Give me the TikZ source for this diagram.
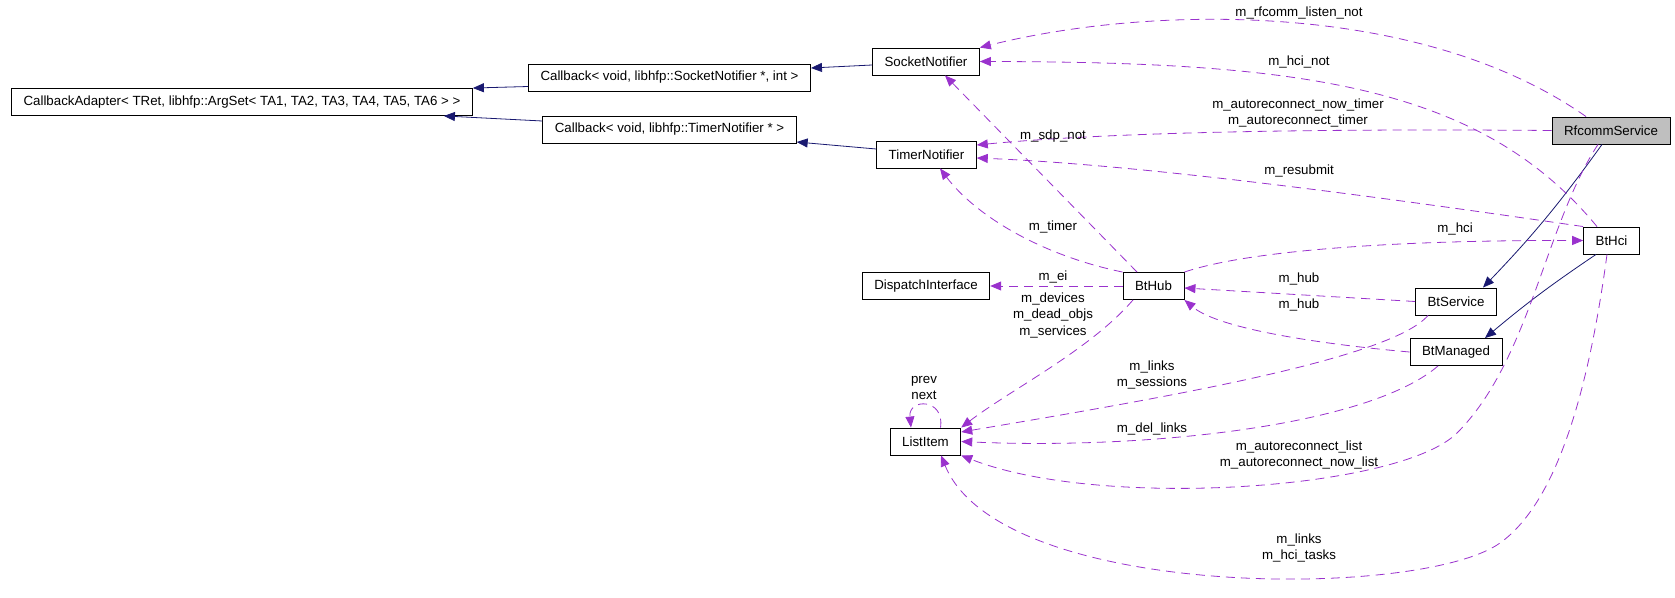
\documentclass[tikz,border=0pt]{standalone}
\usepackage{fontspec}
\setmainfont{Liberation Sans}
\usetikzlibrary{arrows.meta,calc}
\definecolor{memcol}{HTML}{9A32CD}
\definecolor{inhcol}{HTML}{191970}

\begin{document}
\begin{tikzpicture}[x=1pt,y=-1pt,
    cls/.style={draw, line width=0.9pt, minimum height=27pt, inner xsep=12pt, inner ysep=0pt, font=\fontsize{13.3}{16}\selectfont},
    lbl/.style={inner sep=0pt, align=center, font=\fontsize{13.3}{16.5}\selectfont},
    inh/.style={inhcol, line width=0.8pt, -{Triangle[length=11pt,width=9pt]}},
    mem/.style={memcol, line width=0.8pt, dash pattern=on 9pt off 6pt, -{Triangle[length=11pt,width=9pt]}}]
    \useasboundingbox (0,0) rectangle (1675,597);

    % 类
    \node[cls] (cba) at (242,102) {CallbackAdapter< TRet, libhfp::ArgSet< TA1, TA2, TA3, TA4, TA5, TA6 > >};
    \node[cls] (cbs) at (669.5,77.5) {Callback< void, libhfp::SocketNotifier *, int >};
    \node[cls] (cbt) at (669.5,129.5) {Callback< void, libhfp::TimerNotifier * >};
    \node[cls] (sn) at (926,61.5) {SocketNotifier}; \node[cls] (tn) at (926.5,154.5) {TimerNotifier};
    \node[cls] (di) at (926,286) {DispatchInterface}; \node[cls] (bthub) at (1153.5,286) {BtHub};
    \node[cls] (li) at (925.5,441.5) {ListItem};
    \node[cls, fill=black!25] (rs) at (1611,130.5) {RfcommService};
    \node[cls] (bthci) at (1611.5,240.5) {BtHci};
    \node[cls] (btsvc) at (1456,301.5) {BtService}; \node[cls] (btmgd) at (1456,352) {BtManaged};

    % 继承
    \draw[inh] ([yshift=-9pt]cbs.west) -- (cba.north east);
    \draw[inh] ([yshift=8.5pt]cbt.west) -- ([xshift=-29pt]cba.south east);
    \draw[inh] ([yshift=-3.5pt]sn.west) -- ([yshift=9.5pt]cbs.east);
    \draw[inh] ([yshift=5.5pt]tn.west) -- ([yshift=-12.5pt]cbt.east);
    \draw[inh] ([xshift=-9pt]rs.south) to[bend left=4] ([xshift=27pt]btsvc.north);
    \draw[inh] ([xshift=-15.5pt]bthci.south) to[bend right=3] ([xshift=29pt]btmgd.north);

    % 成员
    \draw[mem] ([xshift=-25pt]rs.north) .. controls (1420,0) and (1150,5) .. (sn.north east);
    \draw[mem] ([xshift=-14.5pt]bthci.north) .. controls (1480,85) and (1300,62) .. (sn.east);
    \draw[mem] (rs.west) .. controls (1250,128) and (1080,135) .. ([yshift=9.5pt]tn.east);
    \draw[mem] (bthci.north west) .. controls (1400,200) and (1150,165) .. ([yshift=-3.5pt]tn.east);
    \draw[mem] (bthub.north east) .. controls (1250,250) and (1400,240) .. (bthci.west);
    \draw[mem] (btsvc.west) -- ([yshift=-2pt]bthub.east);
    \draw[mem] (btmgd.west) .. controls (1330,345) and (1220,330) .. (bthub.south east);
    \draw[mem] (bthub.north west) .. controls (1040,255) and (975,215) .. ([xshift=13.5pt]tn.south);
    \draw[mem] ([xshift=-16.5pt]bthub.north) -- ([xshift=19pt]sn.south);
    \draw[mem] (bthub.west) -- (di.east);
    \draw[mem] ([xshift=-20.5pt]bthub.south) .. controls (1090,350) and (1010,390) .. (li.north east);
    \draw[mem] ([xshift=-28pt]btsvc.south) .. controls (1390,360) and (1150,400) .. ([yshift=9.5pt]li.east);
    \draw[mem] ([xshift=-18pt]btmgd.south) .. controls (1370,425) and (1150,450) .. (li.east);
    \draw[mem] ([xshift=-13pt]rs.south) .. controls (1545,225) and (1530,360) .. (1457,433)
        .. controls (1400,490) and (1100,510) .. (li.south east);
    \draw[mem] ([xshift=-4.5pt]bthci.south) .. controls (1590,380) and (1560,500) .. (1500,543)
        .. controls (1420,600) and (1000,600) .. ([xshift=15.5pt]li.south);
    \draw[mem] ([xshift=15pt]li.north) .. controls (945,398) and (908,398) .. ([xshift=-14.5pt]li.north);

    % 标签
    \node[lbl] (l1) at (1299,13) {m\_rfcomm\_listen\_not};
    \node[lbl] (l2) at (1299,62) {m\_hci\_not};
    \node[lbl] (l3) at (1298,113) {m\_autoreconnect\_now\_timer\\m\_autoreconnect\_timer};
    \node[lbl] (l4) at (1053,136) {m\_sdp\_not};
    \node[lbl] (l5) at (1299,171) {m\_resubmit};
    \node[lbl] (l6) at (1053,227) {m\_timer}; \node[lbl] (l7) at (1455,229) {m\_hci};
    \node[lbl] (l8) at (1053,277) {m\_ei}; \node[lbl] (l9) at (1299,279) {m\_hub};
    \node[lbl] (l10) at (1053,315) {m\_devices\\m\_dead\_objs\\m\_services};
    \node[lbl] (l11) at (1299,305) {m\_hub};
    \node[lbl] (l12) at (1152,375) {m\_links\\m\_sessions};
    \node[lbl] (l13) at (924,388) {prev\\next};
    \node[lbl] (l14) at (1152,429) {m\_del\_links};
    \node[lbl] (l15) at (1299,455) {m\_autoreconnect\_list\\m\_autoreconnect\_now\_list};
    \node[lbl] (l16) at (1299,548) {m\_links\\m\_hci\_tasks};
\end{tikzpicture}
\end{document}
